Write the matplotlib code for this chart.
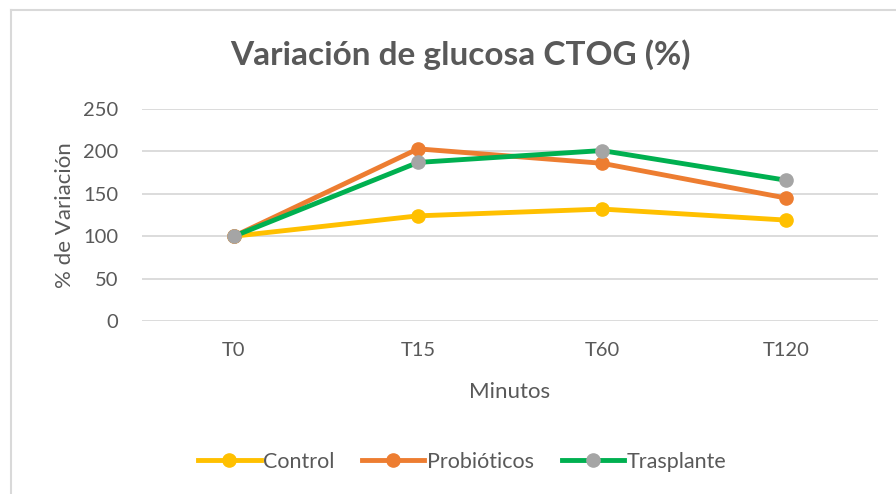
import matplotlib.pyplot as plt
from matplotlib.lines import Line2D

# Datos
categorias = ["T0", "T15", "T60", "T120"]
control = [100, 124, 132, 119]
probioticos = [100, 203, 186, 145]
trasplante = [100, 187, 201, 166]
y_ticks = [0, 50, 100, 150, 200, 250]

plt.rcParams["font.family"] = ["Lato", "DejaVu Sans"]
GRIS_TXT = "#595959"
GRIS_GRID = "#D9D9D9"

fig = plt.figure(figsize=(8.96, 4.94), dpi=100)
ax = fig.add_axes([142 / 896, 1 - 321 / 494, 736 / 896, 212 / 494])

x = list(range(len(categorias)))
series = [
    ("Control", control, "#FFC000", "#FFC000"),
    ("Probióticos", probioticos, "#ED7D31", "#ED7D31"),
    ("Trasplante", trasplante, "#00B050", "#A5A5A5"),
]
for nombre, valores, color, mcolor in series:
    ax.plot(x, valores, color=color, linewidth=3.5, marker="o",
            markersize=9.5, markerfacecolor=mcolor, markeredgecolor=mcolor,
            label=nombre, zorder=3)

ax.set_xlim(-0.5, len(categorias) - 0.5)
ax.set_ylim(0, 250)
ax.set_yticks(y_ticks)
ax.set_xticks(x)
ax.set_xticklabels(categorias)
ax.tick_params(colors=GRIS_TXT, labelsize=14.5, length=0)
ax.tick_params(axis="y", pad=17)
ax.tick_params(axis="x", pad=15)
ax.grid(axis="y", color=GRIS_GRID, linewidth=1.3)
ax.set_axisbelow(True)
for s in ax.spines.values():
    s.set_visible(False)

ax.set_xlabel("Minutos", fontsize=16, color=GRIS_TXT, labelpad=17)
ax.set_ylabel("% de Variación", fontsize=16, color=GRIS_TXT, labelpad=6)

fig.text(460 / 896, 1 - 55 / 494, "Variación de glucosa CTOG (%)",
         ha="center", va="center", fontsize=24, fontweight="bold", color=GRIS_TXT)

handles = [Line2D([0], [0], color=c, lw=3.5, marker="o", markersize=9.5,
                  markerfacecolor=m, markeredgecolor=m)
           for _, _, c, m in series]
fig.legend(handles, [s[0] for s in series], loc="center",
           bbox_to_anchor=(462 / 896, 1 - 462 / 494), ncol=3, frameon=False,
           fontsize=15.5, labelcolor=GRIS_TXT, handlelength=2.9,
           handletextpad=0.1, columnspacing=1.3)

# borde del área del gráfico (recortado a la derecha y abajo)
fig.add_artist(Line2D([10.5 / 896, 10.5 / 896], [0, 1 - 10.5 / 494],
                      transform=fig.transFigure, color=GRIS_GRID, lw=1.5))
fig.add_artist(Line2D([10.5 / 896, 1], [1 - 10.5 / 494, 1 - 10.5 / 494],
                      transform=fig.transFigure, color=GRIS_GRID, lw=1.5))

fig.savefig("out.png", dpi=100)
